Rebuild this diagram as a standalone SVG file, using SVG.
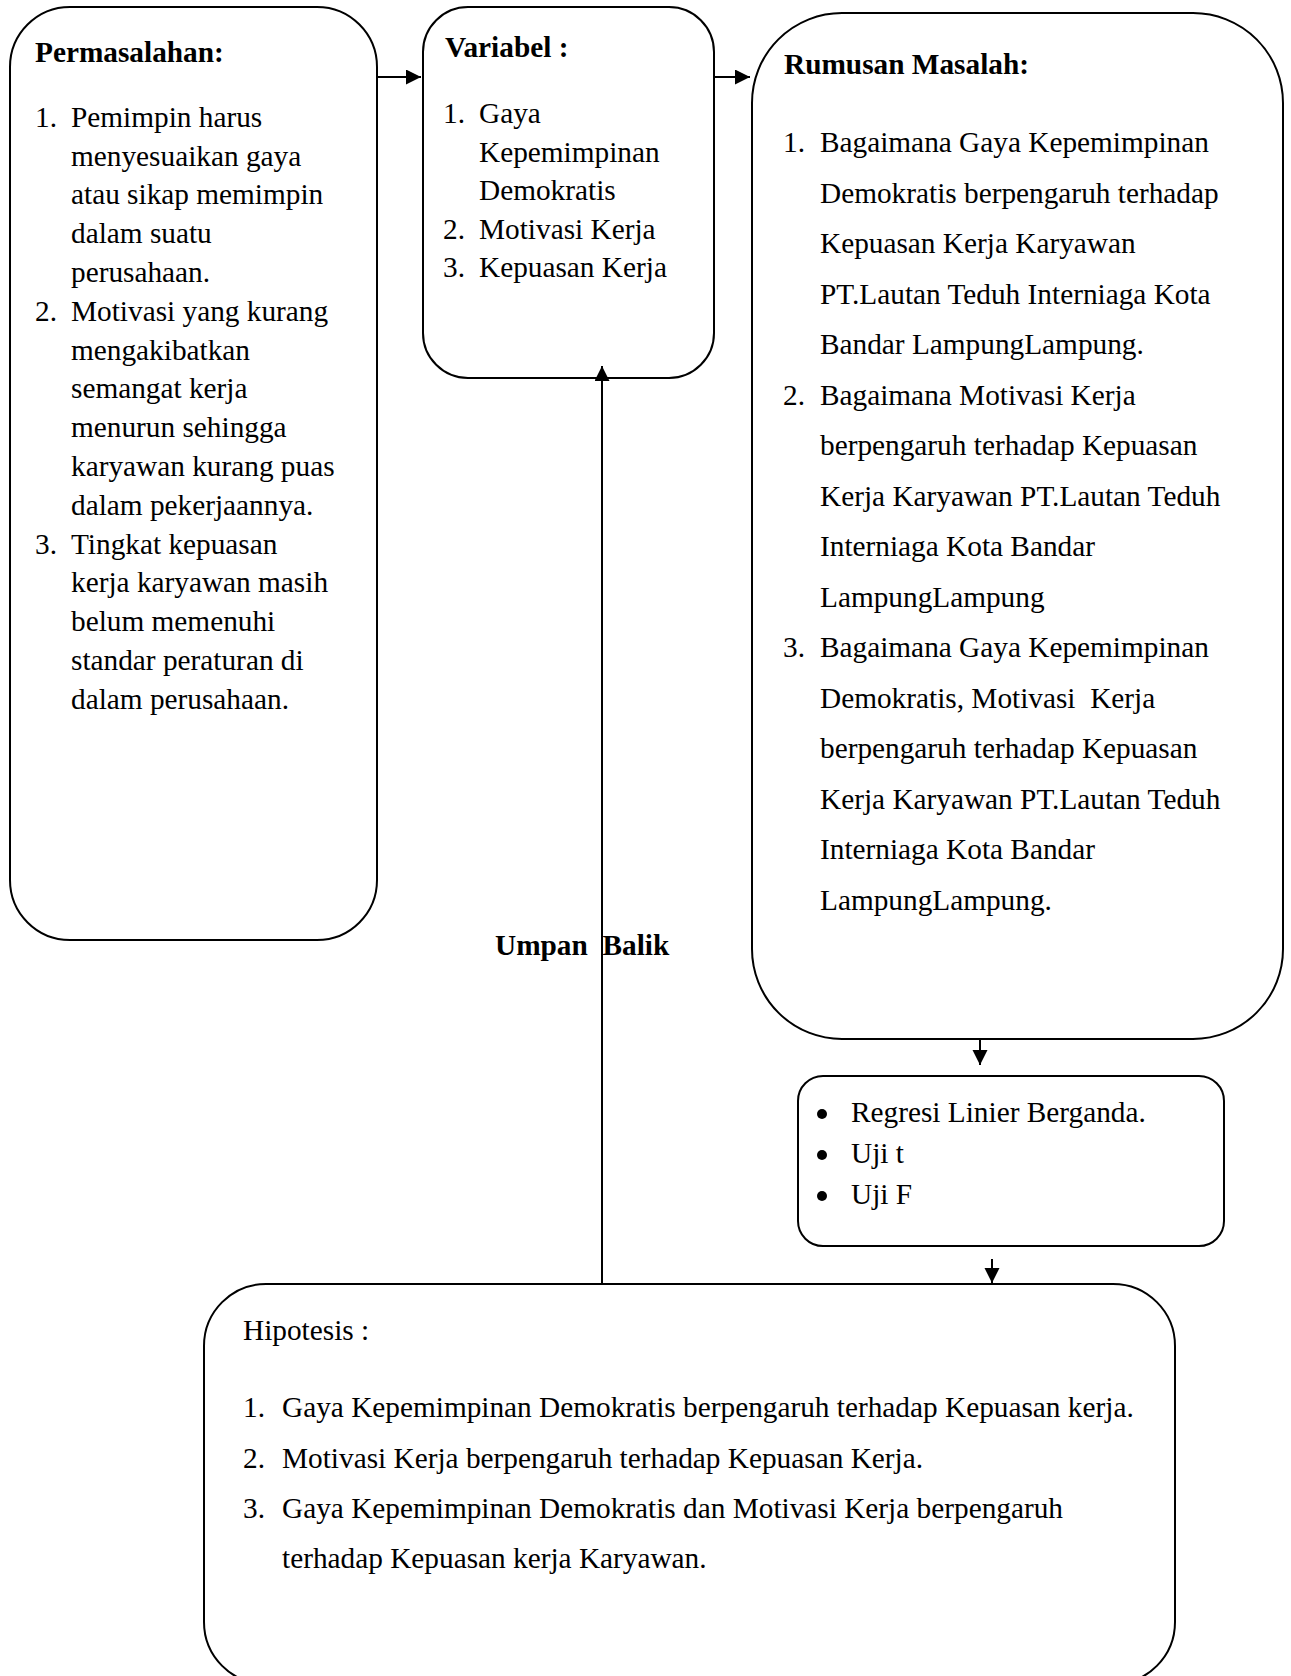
<svg xmlns="http://www.w3.org/2000/svg" width="1291" height="1676" viewBox="0 0 1291 1676">
<style>
.box{fill:#fff;stroke:#000;stroke-width:2}
.t{font-family:"Liberation Serif","Times New Roman",serif;font-size:29.3px;fill:#000}
.b{font-weight:bold}
.c{stroke:#000;stroke-width:2;fill:none}
</style>
<defs>
<marker id="ah" markerUnits="userSpaceOnUse" markerWidth="16" markerHeight="16" refX="15" refY="7.5" orient="auto">
<path d="M0,0 L15,7.5 L0,15 z" fill="#000"/>
</marker>
</defs>
<rect width="1291" height="1676" fill="#fff"/>

<g id="permasalahan">
<rect class="box" x="10" y="7" width="367" height="933" rx="60" ry="60"/>
<text class="t b" x="35" y="62">Permasalahan:</text>
<text class="t" x="35" y="127">1.</text>
<text class="t" x="71" y="127">Pemimpin harus</text>
<text class="t" x="71" y="165.6">menyesuaikan gaya</text>
<text class="t" x="71" y="204.4">atau sikap memimpin</text>
<text class="t" x="71" y="243.2">dalam suatu</text>
<text class="t" x="71" y="282">perusahaan.</text>
<text class="t" x="35" y="320.8">2.</text>
<text class="t" x="71" y="320.8">Motivasi yang kurang</text>
<text class="t" x="71" y="359.6">mengakibatkan</text>
<text class="t" x="71" y="398.4">semangat kerja</text>
<text class="t" x="71" y="437.2">menurun sehingga</text>
<text class="t" x="71" y="476">karyawan kurang puas</text>
<text class="t" x="71" y="514.8">dalam pekerjaannya.</text>
<text class="t" x="35" y="553.6">3.</text>
<text class="t" x="71" y="553.6">Tingkat kepuasan</text>
<text class="t" x="71" y="592.4">kerja karyawan masih</text>
<text class="t" x="71" y="631.2">belum memenuhi</text>
<text class="t" x="71" y="670">standar peraturan di</text>
<text class="t" x="71" y="708.8">dalam perusahaan.</text>
</g>

<g id="variabel">
<rect class="box" x="423" y="7" width="291" height="371" rx="45" ry="45"/>
<text class="t b" x="445" y="57">Variabel :</text>
<text class="t" x="443" y="123">1.</text>
<text class="t" x="479" y="123">Gaya</text>
<text class="t" x="479" y="161.6">Kepemimpinan</text>
<text class="t" x="479" y="200.2">Demokratis</text>
<text class="t" x="443" y="238.8">2.</text>
<text class="t" x="479" y="238.8">Motivasi Kerja</text>
<text class="t" x="443" y="277.4">3.</text>
<text class="t" x="479" y="277.4">Kepuasan Kerja</text>
</g>

<g id="rumusan">
<rect class="box" x="752" y="13" width="531" height="1026" rx="90" ry="90"/>
<text class="t b" x="784" y="74">Rumusan Masalah:</text>
<text class="t" x="783" y="152">1.</text>
<text class="t" x="820" y="152">Bagaimana Gaya Kepemimpinan</text>
<text class="t" x="820" y="202.5">Demokratis berpengaruh terhadap</text>
<text class="t" x="820" y="253">Kepuasan Kerja Karyawan</text>
<text class="t" x="820" y="303.5">PT.Lautan Teduh Interniaga Kota</text>
<text class="t" x="820" y="354">Bandar LampungLampung.</text>
<text class="t" x="783" y="404.5">2.</text>
<text class="t" x="820" y="404.5">Bagaimana Motivasi Kerja</text>
<text class="t" x="820" y="455">berpengaruh terhadap Kepuasan</text>
<text class="t" x="820" y="505.5">Kerja Karyawan PT.Lautan Teduh</text>
<text class="t" x="820" y="556">Interniaga Kota Bandar</text>
<text class="t" x="820" y="606.5">LampungLampung</text>
<text class="t" x="783" y="657">3.</text>
<text class="t" x="820" y="657">Bagaimana Gaya Kepemimpinan</text>
<text class="t" x="820" y="707.5" xml:space="preserve">Demokratis, Motivasi  Kerja</text>
<text class="t" x="820" y="758">berpengaruh terhadap Kepuasan</text>
<text class="t" x="820" y="808.5">Kerja Karyawan PT.Lautan Teduh</text>
<text class="t" x="820" y="859">Interniaga Kota Bandar</text>
<text class="t" x="820" y="909.5">LampungLampung.</text>
</g>

<g id="analisis">
<rect class="box" x="798" y="1076" width="426" height="170" rx="25" ry="25"/>
<circle cx="822" cy="1114" r="5"/>
<circle cx="822" cy="1155" r="5"/>
<circle cx="822" cy="1196" r="5"/>
<text class="t" x="851" y="1122">Regresi Linier Berganda.</text>
<text class="t" x="851" y="1163">Uji t</text>
<text class="t" x="851" y="1204">Uji F</text>
</g>

<g id="hipotesis">
<rect class="box" x="204" y="1284" width="971" height="400" rx="62" ry="62"/>
<text class="t" x="243" y="1340">Hipotesis :</text>
<text class="t" x="243" y="1417">1.</text>
<text class="t" x="282" y="1417">Gaya Kepemimpinan Demokratis berpengaruh terhadap Kepuasan kerja.</text>
<text class="t" x="243" y="1467.5">2.</text>
<text class="t" x="282" y="1467.5">Motivasi Kerja berpengaruh terhadap Kepuasan Kerja.</text>
<text class="t" x="243" y="1518">3.</text>
<text class="t" x="282" y="1518">Gaya Kepemimpinan Demokratis dan Motivasi Kerja berpengaruh</text>
<text class="t" x="282" y="1568">terhadap Kepuasan kerja Karyawan.</text>
</g>

<g id="connectors">
<line class="c" x1="377" y1="77" x2="421" y2="77" marker-end="url(#ah)"/>
<line class="c" x1="714" y1="77" x2="750" y2="77" marker-end="url(#ah)"/>
<line class="c" x1="980" y1="1039" x2="980" y2="1065" marker-end="url(#ah)"/>
<line class="c" x1="992" y1="1259" x2="992" y2="1283" marker-end="url(#ah)"/>
<line class="c" x1="602" y1="1284" x2="602" y2="366" marker-end="url(#ah)"/>
<text class="t b" x="495" y="955" xml:space="preserve">Umpan  Balik</text>
</g>
</svg>
